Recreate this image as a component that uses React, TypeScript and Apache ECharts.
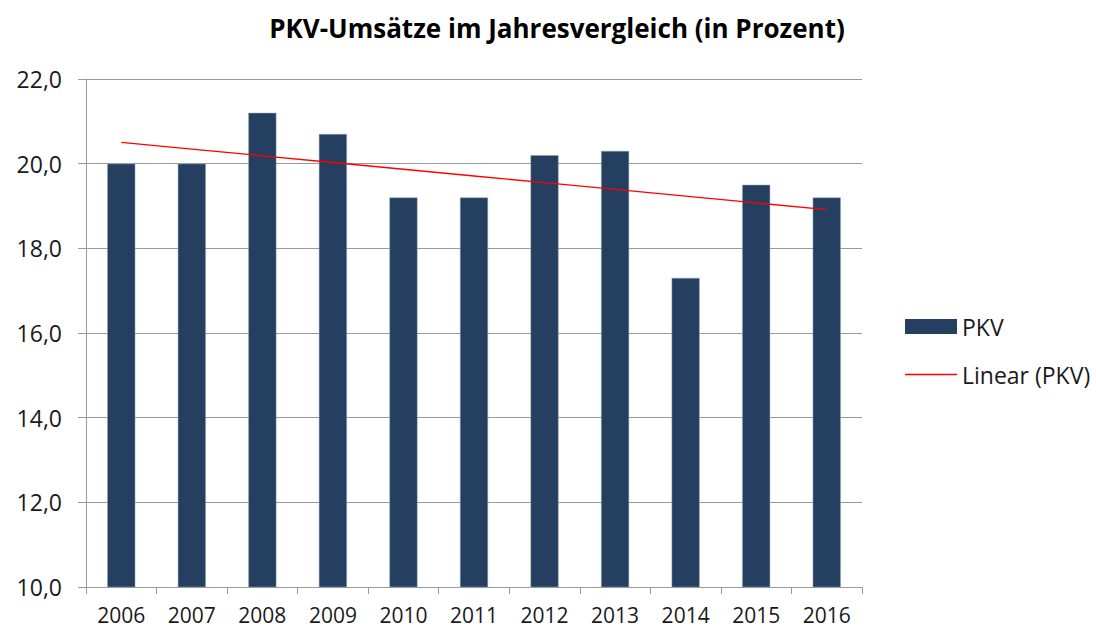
import React, { useEffect, useRef } from "react";
import * as echarts from "echarts";

const title = "PKV-Umsätze im Jahresvergleich (in Prozent)";
const years = ["2006", "2007", "2008", "2009", "2010", "2011", "2012", "2013", "2014", "2015", "2016"];
const pkvValues = [20.0, 20.0, 21.2, 20.7, 19.2, 19.2, 20.2, 20.3, 17.3, 19.5, 19.2];
const seriesNames = ["PKV", "Linear (PKV)"];

function linearTrend(vals: number[]): number[] {
  const n = vals.length;
  const mx = (n - 1) / 2;
  const my = vals.reduce((a, b) => a + b, 0) / n;
  let sxy = 0;
  let sxx = 0;
  vals.forEach((v, i) => {
    sxy += (i - mx) * (v - my);
    sxx += (i - mx) * (i - mx);
  });
  const slope = sxy / sxx;
  return vals.map((_, i) => my + slope * (i - mx));
}

const FONT = "'Open Sans', 'Noto Sans', sans-serif";
const TEXT = "#1a1a1a";

export default function App() {
  const ref = useRef<HTMLDivElement>(null);
  useEffect(() => {
    if (!ref.current) return;
    const chart = echarts.init(ref.current, undefined, { renderer: "svg" });
    const trend = linearTrend(pkvValues);
    chart.setOption({
      animation: false,
      backgroundColor: "#ffffff",
      title: {
        text: title,
        left: 557,
        textAlign: "center",
        top: 15,
        padding: 0,
        textStyle: { fontFamily: FONT, fontSize: 26, fontWeight: "bold", color: "#000000" },
      },
      legend: {
        orient: "vertical",
        left: 905,
        top: 315,
        padding: 0,
        itemWidth: 52,
        itemHeight: 15,
        itemGap: 25,
        symbolKeepAspect: true,
        textStyle: { fontFamily: FONT, fontSize: 23, color: TEXT },
        data: [
          { name: seriesNames[0], icon: "rect", itemStyle: { color: "#253f60", borderWidth: 0 } },
          {
            name: seriesNames[1],
            icon: "path://M0,0H52V1.3H0Z",
            itemStyle: { color: "#ff0000", borderWidth: 0 },
          },
        ],
      },
      grid: { left: 86, right: 234, top: 79, bottom: 44, containLabel: false },
      xAxis: {
        type: "category",
        data: years,
        boundaryGap: true,
        axisLine: { lineStyle: { color: "#9a9a9a", width: 1 } },
        axisTick: { show: true, length: 7, alignWithLabel: false, lineStyle: { color: "#9a9a9a" } },
        axisLabel: { fontFamily: FONT, fontSize: 21, lineHeight: 18, color: TEXT, margin: 19 },
      },
      yAxis: {
        type: "value",
        min: 10,
        max: 22,
        interval: 2,
        axisLine: { show: true, lineStyle: { color: "#9a9a9a", width: 1 } },
        axisTick: { show: true, length: 8, lineStyle: { color: "#9a9a9a" } },
        splitLine: { show: true, lineStyle: { color: "#9a9a9a", width: 1 } },
        axisLabel: {
          fontFamily: FONT,
          fontSize: 23,
          color: TEXT,
          margin: 24,
          formatter: (v: number) => v.toFixed(1).replace(".", ","),
        },
      },
      series: [
        {
          name: seriesNames[0],
          type: "bar",
          data: pkvValues,
          barWidth: 28,
          itemStyle: { color: "#253f60", borderColor: "#8fa0b8", borderWidth: 0.5 },
        },
        {
          name: seriesNames[1],
          type: "line",
          data: trend,
          symbol: "none",
          showSymbol: false,
          lineStyle: { color: "#ff0000", width: 1.3 },
          itemStyle: { color: "#ff0000" },
          z: 5,
        },
      ],
    });
    return () => chart.dispose();
  }, []);
  return (
    <div
      ref={ref}
      style={{ position: "absolute", left: 0, top: 0, width: 1096, height: 631 }}
    />
  );
}
